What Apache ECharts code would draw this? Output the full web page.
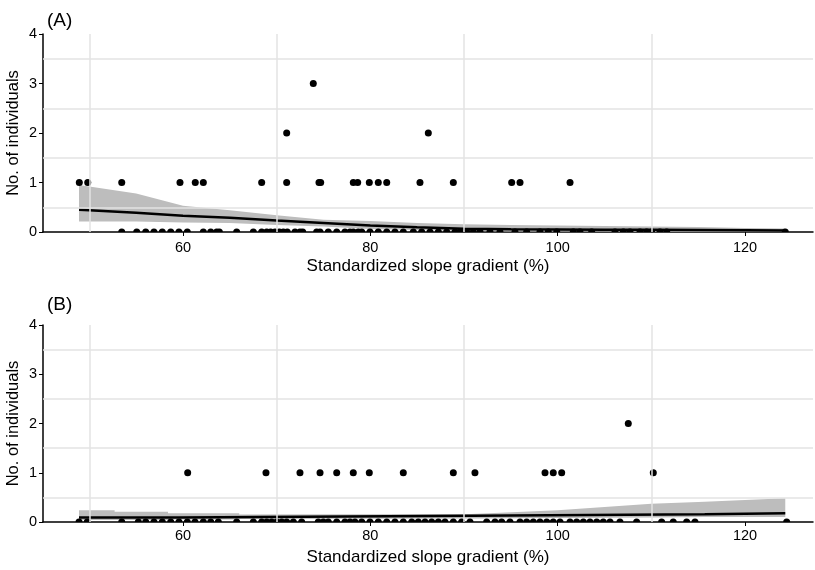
<!DOCTYPE html>
<html>
<head>
<meta charset="utf-8">
<script src="https://cdn.jsdelivr.net/npm/echarts@6/dist/echarts.min.js"></script>
<style>
html,body{margin:0;padding:0;background:#fff;}
#chart{width:815px;height:570px;}
</style>
</head>
<body>
<div id="chart"></div>
<script>
// ---------- Data ----------
const xTicks = [60, 80, 100, 120];
const yTicks = [0, 1, 2, 3, 4];
const xGridMinor = [50, 70, 90, 110];
const yGridMinor = [0.5, 1.5, 2.5, 3.5];

// Panel A: observations (x = standardized slope gradient)
const aX3 = [73.91];
const aX2 = [71.07, 86.19];
const aX1 = [48.93, 49.83, 53.46, 59.68, 61.31, 62.17, 68.40, 71.07, 74.52, 74.70, 78.18, 78.65, 79.89, 80.85, 81.75, 85.30, 88.86, 95.09, 95.98, 101.32];
const aX0 = [53.46, 55.06, 56.02, 56.90, 57.79, 58.69, 59.57, 60.46, 62.17, 62.96, 63.60, 63.88, 65.73, 67.51, 68.40, 68.94, 69.36, 69.82, 70.28, 70.71, 71.13, 71.96, 72.49, 72.78, 74.27, 74.63, 75.51, 76.41, 77.29, 77.83, 78.18, 78.71, 79.08, 79.96, 80.85, 81.75, 82.63, 83.52, 84.59, 85.48, 86.37, 87.26, 88.15, 89.04, 89.57, 90.29, 90.99, 91.71, 92.77, 93.84, 95.44, 96.69, 98.11, 99.00, 99.90, 101.67, 102.38, 103.63, 106.12, 107.01, 107.72, 108.79, 109.50, 110.04, 110.92, 111.64, 124.30];

// Panel A: fitted curve and confidence band
const aFitX  = [48.9, 50, 55, 60, 65, 70, 75, 80, 85, 90, 95, 100, 105, 110, 115, 120, 124.3];
const aFit   = [0.45, 0.44, 0.39, 0.33, 0.29, 0.23, 0.18, 0.13, 0.095, 0.065, 0.055, 0.05, 0.045, 0.045, 0.04, 0.035, 0.03];
const aUpper = [0.95, 0.92, 0.78, 0.53, 0.44, 0.34, 0.25, 0.22, 0.18, 0.155, 0.14, 0.13, 0.12, 0.11, 0.10, 0.08, 0.07];
const aLower = [0.21, 0.21, 0.21, 0.19, 0.18, 0.14, 0.11, 0.06, 0.04, 0.02, 0.01, 0.01, 0.01, 0.005, 0.005, 0.005, 0.005];

// Panel B: observations
const bX2 = [107.54];
const bX1 = [60.50, 68.86, 72.49, 74.63, 76.41, 78.18, 79.89, 83.52, 88.86, 91.17, 98.65, 99.53, 100.43, 110.21];
const bX0 = [48.90, 49.78, 53.46, 55.23, 56.02, 56.90, 57.79, 58.69, 59.57, 60.46, 61.28, 62.17, 62.96, 63.77, 65.73, 67.51, 68.40, 68.94, 69.47, 70.00, 70.54, 71.07, 71.78, 72.67, 74.44, 74.98, 75.51, 76.41, 77.29, 77.83, 78.36, 79.08, 79.96, 80.85, 81.75, 82.63, 83.52, 84.42, 85.12, 85.84, 86.55, 87.26, 87.97, 88.86, 89.75, 90.64, 92.42, 93.31, 94.02, 94.91, 95.98, 96.69, 97.40, 98.11, 98.83, 99.53, 100.25, 101.32, 102.03, 102.74, 103.45, 104.17, 104.87, 105.59, 106.65, 108.43, 111.10, 112.34, 113.77, 114.66, 124.45];

// Panel B: fitted (stepped) curve and band
const bFitX  = [48.9, 59.5, 59.5, 90.8, 90.8, 115.7, 115.7, 124.3];
const bFit   = [0.09, 0.09, 0.125, 0.125, 0.155, 0.155, 0.18, 0.18];
const bBandX = [48.9, 52.7, 52.7, 58.4, 58.4, 66, 66, 90.8, 100, 110, 115.7, 124.3];
const bUpper = [0.24, 0.24, 0.21, 0.21, 0.18, 0.18, 0.15, 0.16, 0.24, 0.37, 0.41, 0.48];
const bLower = [0.04, 0.04, 0.04, 0.04, 0.05, 0.05, 0.06, 0.07, 0.08, 0.09, 0.10, 0.10];

// ---------- Build chart ----------
const X_MIN = 45.054, X_MAX = 127.26;
const FONT = "'Liberation Sans', Arial, sans-serif";
const GRIDCOL = '#e3e3e3';
const BAND = '#bdbdbd';
const HALF = 'path://M0 10 A10 10 0 0 1 20 10 Z';

function xAxisDef(idx, labelMargin, nameGap) {
  return {
    type: 'value', gridIndex: idx, min: X_MIN, max: X_MAX,
    name: 'Standardized slope gradient (%)', nameLocation: 'middle', nameGap: nameGap,
    nameMoveOverlap: false,
    nameTextStyle: { fontFamily: FONT, fontSize: 17, color: '#000', verticalAlign: 'middle' },
    axisLine: { show: true, onZero: false, lineStyle: { color: '#000', width: 1.5 } },
    axisTick: { show: true, length: 4, customValues: xTicks, lineStyle: { color: '#000', width: 1 } },
    axisLabel: { customValues: xTicks, margin: labelMargin, fontFamily: FONT, fontSize: 14.5, color: '#000' },
    splitLine: { show: false }
  };
}
function yAxisDef(idx) {
  return {
    type: 'value', gridIndex: idx, min: 0, max: 4, interval: 1,
    name: 'No. of individuals', nameLocation: 'middle', nameGap: 21, nameRotate: 90,
    nameMoveOverlap: false,
    nameTextStyle: { fontFamily: FONT, fontSize: 16.5, color: '#000' },
    axisLine: { show: true, lineStyle: { color: '#000', width: 1.5 } },
    axisTick: { show: true, length: 4, lineStyle: { color: '#000', width: 1 } },
    axisLabel: { margin: 6, fontFamily: FONT, fontSize: 14.5, color: '#000', customValues: yTicks },
    splitLine: { show: false }
  };
}
function gridLines(idx) {
  const data = xGridMinor.map(v => ({ xAxis: v })).concat(yGridMinor.map(v => ({ yAxis: v })));
  return {
    type: 'line', xAxisIndex: idx, yAxisIndex: idx, data: [], silent: true, z: 0,
    markLine: { silent: true, symbol: 'none', label: { show: false },
      lineStyle: { color: GRIDCOL, width: 1.5, type: 'solid' }, animation: false, data: data }
  };
}
function bandSeries(idx, xs, lo, hi) {
  return {
    type: 'custom', xAxisIndex: idx, yAxisIndex: idx, z: 1, silent: true,
    data: xs.map((x, i) => [x, lo[i], hi[i]]),
    renderItem: function (params, api) {
      if (params.dataIndex !== 0) return null;
      const pts = [];
      for (let i = 0; i < xs.length; i++) pts.push(api.coord([xs[i], hi[i]]));
      for (let i = xs.length - 1; i >= 0; i--) pts.push(api.coord([xs[i], lo[i]]));
      return { type: 'polygon', shape: { points: pts }, style: { fill: BAND } };
    }
  };
}
function fitSeries(idx, xs, ys) {
  return { type: 'line', xAxisIndex: idx, yAxisIndex: idx, symbol: 'none', z: 2,
    lineStyle: { color: '#000', width: 2.5 }, data: xs.map((x, i) => [x, ys[i]]) };
}
function dots(idx, xs, y) {
  return { type: 'scatter', xAxisIndex: idx, yAxisIndex: idx, z: 3, symbol: 'circle', symbolSize: 7,
    itemStyle: { color: '#000', opacity: 1 }, data: xs.map(x => [x, y]) };
}
function zeroDots(idx, xs) {
  return { type: 'scatter', xAxisIndex: idx, yAxisIndex: idx, z: 3, symbol: HALF,
    symbolSize: [7, 3.5], symbolOffset: [0, -1.75], clip: false,
    itemStyle: { color: '#000', opacity: 1 }, data: xs.map(x => [x, 0]) };
}

const option = {
  backgroundColor: '#fff',
  animation: false,
  title: [
    { text: '(A)', left: 42, top: 6, textStyle: { fontFamily: FONT, fontSize: 19, fontWeight: 'normal', color: '#000' } },
    { text: '(B)', left: 42, top: 290, textStyle: { fontFamily: FONT, fontSize: 19, fontWeight: 'normal', color: '#000' } }
  ],
  grid: [
    { left: 43, right: 2, top: 34, height: 198, containLabel: false, outerBoundsMode: 'none' },
    { left: 43, right: 2, top: 325, height: 197, containLabel: false, outerBoundsMode: 'none' }
  ],
  xAxis: [xAxisDef(0, 8, 34), xAxisDef(1, 6, 35)],
  yAxis: [yAxisDef(0), yAxisDef(1)],
  series: [
    gridLines(0),
    bandSeries(0, aFitX, aLower, aUpper),
    fitSeries(0, aFitX, aFit),
    dots(0, aX1, 1), dots(0, aX2, 2), dots(0, aX3, 3),
    zeroDots(0, aX0),
    gridLines(1),
    bandSeries(1, bBandX, bLower, bUpper),
    fitSeries(1, bFitX, bFit),
    dots(1, bX1, 1), dots(1, bX2, 2),
    zeroDots(1, bX0)
  ]
};
const chart = echarts.init(document.getElementById('chart'), null, { renderer: 'canvas' });
chart.setOption(option);
</script>
</body>
</html>
